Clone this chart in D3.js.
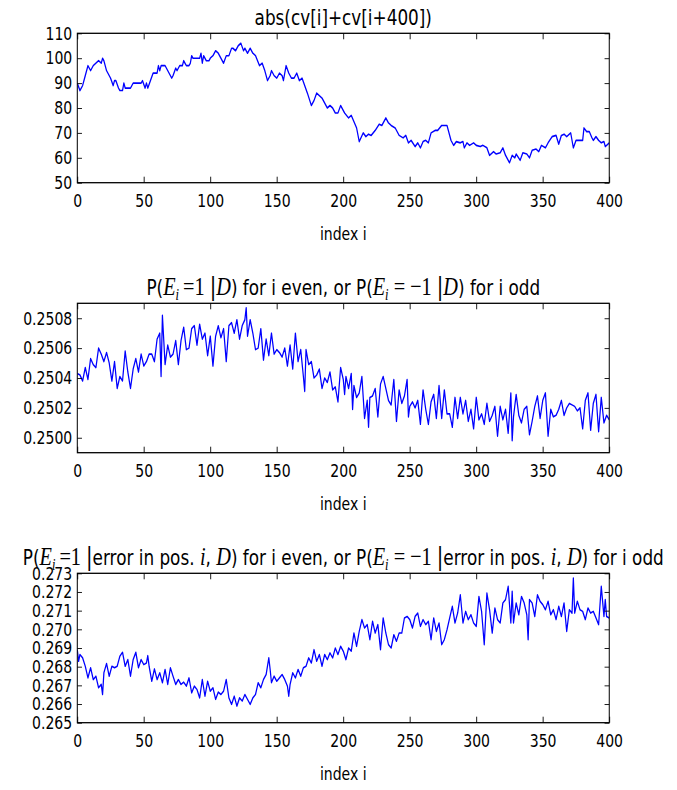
<!DOCTYPE html>
<html>
<head>
<meta charset="utf-8">
<script src="https://cdn.jsdelivr.net/npm/d3@7"></script>
<style>
  body { margin: 0; background: #fff; }
  svg text { font-family: "DejaVu Sans", sans-serif; fill: #000; }
</style>
</head>
<body>
<svg id="chart"></svg>
<script>
// ---- data ----
const xTickVals = [0, 50, 100, 150, 200, 250, 300, 350, 400];

const absTickVals = [50, 60, 70, 80, 90, 100, 110];
const absIdx = [0,2,4,6,8,10,12,14,16,18,19,20,22,24,25,27,28,29,31,32,34,35,36,40,41,42,48,49,51,52,53,55,57,60,61,62,63,66,67,68,69,71,72,74,75,77,79,80,81,82,84,85,86,87,92,93,94,95,97,99,100,102,104,106,108,110,112,114,116,117,119,121,123,125,126,128,130,132,134,137,139,141,143,145,146,148,150,152,154,155,157,159,161,163,165,167,169,173,176,178,180,182,184,186,188,190,192,194,196,198,199,201,204,206,208,210,212,215,217,219,221,224,227,229,232,234,236,239,242,245,247,249,251,254,256,258,260,262,264,266,269,271,274,277,278,281,283,285,288,290,291,293,295,298,300,303,305,308,310,313,315,318,320,322,325,327,329,330,333,335,338,340,342,345,347,349,352,354,357,360,362,364,366,368,371,373,375,378,380,381,383,385,387,388,390,392,394,396,397,400];
const absVals = [90,87,89,93,97,95,97,98,99,98,100,99,95,93,92,89,91,91,88,87,87,90,88,88,89,90,90,91,88,90,88,91,94,94,97,95,97,97,96,95,94,92,93,96,95,97,97,99,98,97,97,98,101,100,100,102,98,101,99,99,100,101,103,102,100,98,101,101,104,104,103,105,106,103,104,102,104,102,101,97,98,95,91,93,95,93,92,94,93,91,97,94,92,92,94,91,92,86,81,83,86,85,84,82,80,81,80,78,78,81,80,78,76,77,74.5,72,66.5,70,68.5,69.5,69,71,73.5,73,76,74,73,72,69,68,69,66,67,64.5,66,64,66.5,67,66,70,71,71,73,73,73,67,65,66.5,66,66.5,64,66,65,66,65,64.5,65,64,61,62.5,61.5,62,64,61,58,61,60,61.5,59,62,61.5,60,63,63.5,62.5,65,64,66,68.5,69,65.5,69,69.5,68.5,70,64,67,67,67,72,70.5,70.5,68,67,68.5,67,66,66.5,64.5,66];

const pTickVals = [0.2500, 0.2502, 0.2504, 0.2506, 0.2508];
const pIdx = [0,2,4,6,8,10,12,14,16,18,20,22,24,26,28,30,32,34,36,38,40,42,44,46,48,50,52,54,56,58,60,62,63,64,66,68,70,72,74,76,78,80,82,84,86,88,90,92,94,96,98,100,102,104,106,108,110,112,114,116,118,120,122,124,126,127,128,130,132,134,136,138,140,142,144,146,148,150,152,154,156,158,160,162,164,166,168,170,171,172,174,176,178,180,182,184,186,188,190,192,194,196,198,200,201,202,204,206,207,208,210,212,214,216,218,219,220,222,224,226,228,230,232,234,236,238,240,242,244,246,248,249,250,252,254,256,258,260,262,264,266,268,270,272,274,276,278,280,282,284,286,288,290,292,294,296,298,300,302,304,306,308,310,312,314,316,318,320,322,324,326,327,328,330,332,334,336,338,340,342,344,346,348,350,352,354,356,358,360,362,364,366,368,370,372,374,376,378,380,382,384,386,388,390,392,394,396,398,400];
const pVals = [0.25043,0.25042,0.25038,0.25047,0.25039,0.25053,0.25049,0.25047,0.25060,0.25056,0.25051,0.25057,0.25050,0.25038,0.25051,0.25033,0.25041,0.25038,0.25058,0.25044,0.25033,0.25046,0.25053,0.25044,0.25056,0.25048,0.25051,0.25056,0.25056,0.25051,0.25066,0.25070,0.25041,0.25082,0.25049,0.25062,0.25054,0.25056,0.25065,0.25049,0.25065,0.25074,0.25059,0.25060,0.25073,0.25075,0.25062,0.25076,0.25066,0.25070,0.25055,0.25068,0.25048,0.25068,0.25075,0.25067,0.25073,0.25051,0.25075,0.25077,0.25070,0.25079,0.25066,0.25075,0.25079,0.25087,0.25068,0.25079,0.25070,0.25059,0.25060,0.25073,0.25052,0.25066,0.25055,0.25070,0.25056,0.25059,0.25057,0.25054,0.25060,0.25048,0.25062,0.25046,0.25070,0.25051,0.25059,0.25041,0.25031,0.25059,0.25049,0.25051,0.25040,0.25042,0.25046,0.25033,0.25040,0.25037,0.25044,0.25032,0.25034,0.25024,0.25047,0.25039,0.25029,0.25041,0.25033,0.25043,0.25019,0.25035,0.25027,0.25030,0.25041,0.25013,0.25025,0.25007,0.25027,0.25028,0.25033,0.25014,0.25036,0.25041,0.25033,0.25025,0.25022,0.25039,0.25011,0.25032,0.25023,0.25028,0.25039,0.25014,0.25021,0.25024,0.25020,0.25025,0.25009,0.25032,0.25019,0.25009,0.25024,0.25029,0.25013,0.25035,0.25013,0.25032,0.25016,0.25016,0.25007,0.25027,0.25013,0.25027,0.25016,0.25025,0.25011,0.25019,0.25006,0.25027,0.25012,0.25016,0.25009,0.25023,0.25011,0.25015,0.25021,0.25001,0.25021,0.25012,0.25019,0.25003,0.25030,0.24998,0.25014,0.25029,0.25015,0.25010,0.25019,0.25021,0.25002,0.25011,0.25021,0.25028,0.25013,0.25025,0.25030,0.25001,0.25019,0.25014,0.25015,0.25019,0.25025,0.25015,0.25020,0.25023,0.25022,0.25021,0.25018,0.25020,0.25006,0.25025,0.25030,0.25005,0.25023,0.25029,0.25004,0.25027,0.25010,0.25015,0.25012];

const errTickVals = [0.265, 0.266, 0.267, 0.268, 0.269, 0.270, 0.271, 0.272, 0.273];
const errIdx = [0,1,2,4,6,8,10,12,14,16,18,19,20,22,24,26,28,30,32,34,36,38,40,42,44,46,48,50,52,53,54,56,58,60,62,64,66,68,70,72,74,76,78,80,82,84,86,88,90,92,94,96,98,100,102,104,106,108,110,112,114,116,118,120,122,124,126,128,130,132,134,136,138,140,142,144,145,146,148,150,152,154,156,158,159,160,162,164,166,168,170,172,174,176,178,180,182,184,186,188,190,192,194,196,198,200,202,204,206,208,210,212,214,216,218,220,222,224,226,228,230,232,234,236,238,240,242,244,246,248,250,252,254,256,258,260,262,264,266,268,270,272,274,276,278,280,282,284,286,288,290,292,294,296,298,300,302,304,306,308,310,312,314,316,318,320,322,324,326,327,328,330,332,334,336,338,339,340,342,344,346,348,350,352,354,356,358,360,362,364,366,368,370,372,373,374,376,378,380,382,384,386,388,390,392,394,396,397,398,400];
const errVals = [0.26891,0.26829,0.26865,0.26847,0.26802,0.26740,0.26794,0.26731,0.26749,0.26687,0.26705,0.26651,0.26767,0.26817,0.26749,0.26802,0.26794,0.26802,0.26856,0.26877,0.26802,0.26838,0.26749,0.26838,0.26877,0.26794,0.26838,0.26811,0.26820,0.26859,0.26802,0.26722,0.26788,0.26731,0.26767,0.26714,0.26785,0.26705,0.26794,0.26749,0.26705,0.26731,0.26705,0.26717,0.26696,0.26740,0.26660,0.26696,0.26678,0.26633,0.26731,0.26642,0.26722,0.26669,0.26687,0.26625,0.26664,0.26651,0.26669,0.26731,0.26633,0.26598,0.26642,0.26589,0.26633,0.26616,0.26651,0.26625,0.26598,0.26633,0.26651,0.26714,0.26687,0.26731,0.26758,0.26847,0.26785,0.26714,0.26749,0.26722,0.26740,0.26758,0.26731,0.26696,0.26642,0.26705,0.26767,0.26740,0.26785,0.26749,0.26794,0.26802,0.26847,0.26820,0.26891,0.26829,0.26865,0.26802,0.26865,0.26838,0.26874,0.26847,0.26900,0.26865,0.26909,0.26883,0.26838,0.26900,0.26883,0.26980,0.26909,0.26989,0.27052,0.27007,0.27025,0.26945,0.27043,0.26980,0.27025,0.26891,0.27061,0.26980,0.26918,0.26900,0.26971,0.26936,0.26980,0.26980,0.27061,0.27069,0.27052,0.27007,0.27069,0.27087,0.27016,0.27052,0.27025,0.27043,0.26945,0.27061,0.26989,0.27034,0.26918,0.26945,0.26998,0.27061,0.27123,0.27034,0.27087,0.27185,0.27034,0.27096,0.27052,0.27078,0.27034,0.27016,0.27176,0.27096,0.26918,0.27194,0.27105,0.26980,0.27114,0.27052,0.27034,0.27141,0.27159,0.27230,0.27034,0.27203,0.27034,0.27141,0.27078,0.27176,0.27141,0.27078,0.26945,0.27159,0.27141,0.27069,0.27185,0.27150,0.27132,0.27105,0.27150,0.27078,0.27105,0.27052,0.27123,0.27069,0.27141,0.26989,0.27105,0.27087,0.27274,0.27087,0.27150,0.27105,0.27096,0.27052,0.27114,0.27087,0.27096,0.27061,0.27025,0.27230,0.27069,0.27159,0.27069,0.27061];

// ---- drawing ----
// the whole figure is squeezed horizontally, like the original picture
const squeeze = 0.78;
const figWidth = 677, figHeight = 790;

class LinePanel {

    /**
     * @param _config placement, domain and ticks of one subplot
     * @param _idx x values (index i)
     * @param _vals y values
     */
    constructor(_config, _idx, _vals) {
        this.config = {
            parentElement: _config.parentElement,
            top: _config.top,
            left: 99.1,
            width: 682,
            height: 149.4,
            tickLength: 6,
            yDomain: _config.yDomain,
            yTicks: _config.yTicks,
            yFormat: _config.yFormat,
            title: _config.title,
            clipId: _config.clipId
        };
        this.data = _idx.map((d, i) => ({x: d, y: _vals[i]}));
        this.initVis();
    }

    initVis() {
        let vis = this;
        const c = vis.config;

        vis.chart = c.parentElement.append('g')
            .attr('transform', `translate(${c.left},${c.top})`);

        vis.xScale = d3.scaleLinear().domain([0, 400]).range([0, c.width]);
        vis.yScale = d3.scaleLinear().domain(c.yDomain).range([c.height, 0]);

        vis.chart.append('clipPath').attr('id', c.clipId)
            .append('rect').attr('width', c.width).attr('height', c.height);

        vis.renderVis();
    }

    renderVis() {
        let vis = this;
        const c = vis.config;

        const line = d3.line()
            .x(d => vis.xScale(d.x))
            .y(d => vis.yScale(d.y));

        vis.chart.append('path')
            .datum(vis.data)
            .attr('clip-path', `url(#${c.clipId})`)
            .attr('fill', 'none')
            .attr('stroke', '#0000ff')
            .attr('stroke-width', 1.6)
            .attr('stroke-linejoin', 'round')
            .attr('d', line);

        // inward ticks on all four sides, labels only bottom and left
        const axes = [
            {axis: d3.axisBottom(vis.xScale).tickValues(xTickVals).tickPadding(11.6), pos: [0, c.height]},
            {axis: d3.axisTop(vis.xScale).tickValues(xTickVals).tickFormat(''), pos: [0, 0]},
            {axis: d3.axisLeft(vis.yScale).tickValues(c.yTicks).tickFormat(d3.format(c.yFormat)).tickPadding(6.5), pos: [0, 0]},
            {axis: d3.axisRight(vis.yScale).tickValues(c.yTicks).tickFormat(''), pos: [c.width, 0]}
        ];
        axes.forEach(a => {
            const g = vis.chart.append('g')
                .attr('transform', `translate(${a.pos[0]},${a.pos[1]})`)
                .call(a.axis.tickSizeInner(-c.tickLength).tickSizeOuter(0));
            g.attr('font-family', null).attr('font-size', 18);
            g.select('.domain').remove();
            g.selectAll('.tick line').attr('stroke', '#000').attr('stroke-width', 1);
            g.selectAll('.tick text').attr('fill', '#000');
        });

        vis.chart.append('rect')
            .attr('width', c.width)
            .attr('height', c.height)
            .attr('fill', 'none')
            .attr('stroke', '#000')
            .attr('stroke-width', 1.3);

        vis.chart.append('text')
            .attr('x', c.width / 2)
            .attr('y', c.height + 57.3)
            .attr('text-anchor', 'middle')
            .style('font-size', '18px')
            .text('index i');

        // title: plain text mixed with mathtext-like pieces
        const title = vis.chart.append('text')
            .attr('x', c.width / 2)
            .attr('y', -8.3)
            .attr('text-anchor', 'middle')
            .style('font-size', '21.6px')
            .style('white-space', 'pre');
        let lowered = false;
        c.title.forEach(([s, kind]) => {
            const ts = title.append('tspan').text(s);
            if (kind === 'it') {
                ts.style('font-family', '"Liberation Serif", serif').style('font-style', 'italic').style('font-size', '26px');
            } else if (kind === 'rm') {
                ts.style('font-family', '"Liberation Serif", serif').style('font-size', '26px');
            } else if (kind === 'bar') {
                ts.style('font-size', '25px');
            } else if (kind === 'sub') {
                ts.style('font-family', '"Liberation Serif", serif').style('font-style', 'italic').style('font-size', '16px');
            }
            if (kind === 'sub') { ts.attr('dy', 5); lowered = true; }
            else if (lowered) { ts.attr('dy', -5); lowered = false; }
        });
    }
}

const svg = d3.select('#chart')
    .attr('width', figWidth)
    .attr('height', figHeight);

const fig = svg.append('g')
    .attr('transform', `scale(${squeeze},1)`);

new LinePanel({
    parentElement: fig, top: 33.3, clipId: 'c1',
    yDomain: [50, 110], yTicks: absTickVals, yFormat: 'd',
    title: [['abs(cv[i]+cv[i+400])', 'n']]
}, absIdx, absVals);

new LinePanel({
    parentElement: fig, top: 303.3, clipId: 'c2',
    yDomain: [0.2499, 0.2509], yTicks: pTickVals, yFormat: '.4f',
    title: [['P(', 'n'], ['E', 'it'], ['i', 'sub'], ['\u2009=1 ', 'rm'], ['|', 'bar'], ['D', 'it'],
            [') for i even, or P(', 'n'], ['E', 'it'], ['i', 'sub'], [' = \u22121 ', 'rm'], ['|', 'bar'], ['D', 'it'],
            [') for i odd', 'n']]
}, pIdx, pVals);

new LinePanel({
    parentElement: fig, top: 573.3, clipId: 'c3',
    yDomain: [0.265, 0.273], yTicks: errTickVals, yFormat: '.3f',
    title: [['P(', 'n'], ['E', 'it'], ['i', 'sub'], ['\u2009=1 ', 'rm'], ['|', 'bar'], ['error in pos. ', 'n'], ['i', 'it'], [', ', 'n'], ['D', 'it'],
            [') for i even, or P(', 'n'], ['E', 'it'], ['i', 'sub'], [' = \u22121 ', 'rm'], ['|', 'bar'], ['error in pos. ', 'n'], ['i', 'it'], [', ', 'n'], ['D', 'it'],
            [') for i odd', 'n']]
}, errIdx, errVals);
</script>
</body>
</html>
